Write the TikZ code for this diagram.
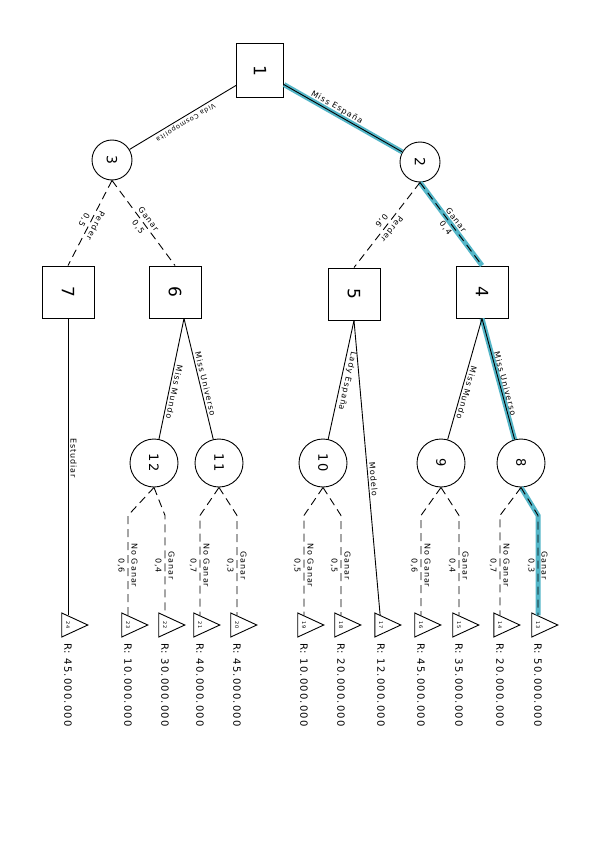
\documentclass[tikz,border=0pt]{standalone}
\usepackage{fontspec}
\setmainfont{DejaVu Sans}[LetterSpace=12]
\usepackage{graphicx}
\usetikzlibrary{shapes.geometric}
\definecolor{bestcol}{RGB}{84,182,200}
\newcommand{\rt}[1]{\rotatebox{-90}{#1}}

\begin{document}
\begin{tikzpicture}[x=1pt,y=-1pt,line width=0.9pt,
  decision/.style={draw,line width=1pt,minimum size=52pt,inner sep=0pt,font=\fontsize{17}{17}\selectfont},
  chance/.style={draw,circle,minimum size=40pt,inner sep=0pt,font=\fontsize{14}{14}\selectfont},
  smallchance/.style={chance,minimum size=48pt,font=\fontsize{13}{13}\selectfont},
  leaf/.style={draw,isosceles triangle,isosceles triangle stretches,minimum width=24pt,minimum height=26pt,inner sep=0pt,font=\fontsize{5}{5}\selectfont},
  val/.style={rotate=-90,anchor=west,inner sep=0pt,font=\fontsize{10}{10}\selectfont},
  lbl/.style={sloped,allow upside down,inner sep=1pt,font=\fontsize{8}{8}\selectfont},
  branch/.style={dash pattern=on 8pt off 5pt},
  best/.style={line width=5pt,draw=bestcol}]
\useasboundingbox (0,0) rectangle (600,848);
% The nodes
\node[decision,minimum width=47pt,minimum height=54pt] (b1) at (260,71) {\rt{1}};
\node[chance] (c3) at (112,160) {\rt{3}};
\node[chance] (c2) at (420,162) {\rt{2}};
\node[decision] (b7) at (68,292) {\rt{7}};
\node[decision] (b6) at (175,292) {\rt{6}};
\node[decision] (b5) at (354,294) {\rt{5}};
\node[decision] (b4) at (482,292) {\rt{4}};
\foreach \n/\x in {12/154,11/219,10/323,9/441,8/521}
  \node[smallchance] (c\n) at (\x,463) {\rt{\n}};
\foreach \n/\x in {24/68,23/128,22/165,21/200,20/237,19/304,18/341,17/381,16/421,15/459,14/500,13/538}
  \node[leaf] (l\n) at (\x,625) {\rt{\n}};
% The best way
\draw[best] (b1) -- (c2);
\draw[best] (c2.south) -- (b4.north);
\draw[best] (b4.south) -- (c8);
\draw[best] (c8.south) -- ([yshift=-28pt]c8.south -| l13) -- (l13);
% The first choice
\draw (b1) -- node[lbl,above=1pt,pos=0.42] {Miss España} (c2);
\draw (b1) -- node[lbl,above=1pt,font=\fontsize{6.5}{6.5}\selectfont] {Vida Cosmopolita} (c3);
% The contests
\draw[branch] (c3.south) -- node[lbl,above=2pt] {Perder} node[lbl,below=2pt] {0,5} (b7.north);
\draw[branch] (c3.south) -- node[lbl,above=2pt] {Ganar} node[lbl,below=2pt] {0,5} (b6.north);
\draw[branch] (c2.south) -- node[lbl,above=2pt] {Perder} node[lbl,below=2pt] {0,6} (b5.north);
\draw[branch] (c2.south) -- node[lbl,above=2pt] {Ganar} node[lbl,below=2pt] {0,4} (b4.north);
% The second choice
\coordinate (b6s) at ([xshift=9pt]b6.south);
\draw (b6s) -- node[lbl,above=1pt,pos=0.6] {Miss Mundo} (c12);
\draw (b6s) -- node[lbl,above=1pt,pos=0.55] {Miss Universo} (c11);
\draw (b5.south) -- node[lbl,above=1pt] {Lady España} (c10);
\draw (b5.south) -- node[lbl,above=1pt,pos=0.54] {Modelo} (l17);
\draw (b4.south) -- node[lbl,above=1pt,pos=0.6] {Miss Mundo} (c9);
\draw (b4.south) -- node[lbl,above=1pt,pos=0.55] {Miss Universo} (c8);
\draw (b7.south) -- node[lbl,above=1pt,pos=0.47] {Estudiar} (l24);
% The last contests
\foreach \c/\l/\r/\pl/\pr in {12/23/22/{0,6}/{0,4},11/21/20/{0,7}/{0,3},10/19/18/{0,5}/{0,5},9/16/15/{0,6}/{0,4},8/14/13/{0,7}/{0,3}}
{
  \draw[branch] (c\c.south) -- ([yshift=-28pt]c\c.south -| l\l) -- node[lbl,above=2pt] {No Ganar} node[lbl,below=2pt] {\pl} (l\l);
  \draw[branch] (c\c.south) -- ([yshift=-28pt]c\c.south -| l\r) -- node[lbl,above=2pt] {Ganar} node[lbl,below=2pt] {\pr} (l\r);
}
% The results
\foreach \n/\v in {24/45.000.000,23/10.000.000,22/30.000.000,21/40.000.000,20/45.000.000,19/10.000.000,18/20.000.000,17/12.000.000,16/45.000.000,15/35.000.000,14/20.000.000,13/50.000.000}
  \node[val] (v\n) at ([yshift=-8pt]l\n.south) {R: \v};
\end{tikzpicture}
\end{document}
